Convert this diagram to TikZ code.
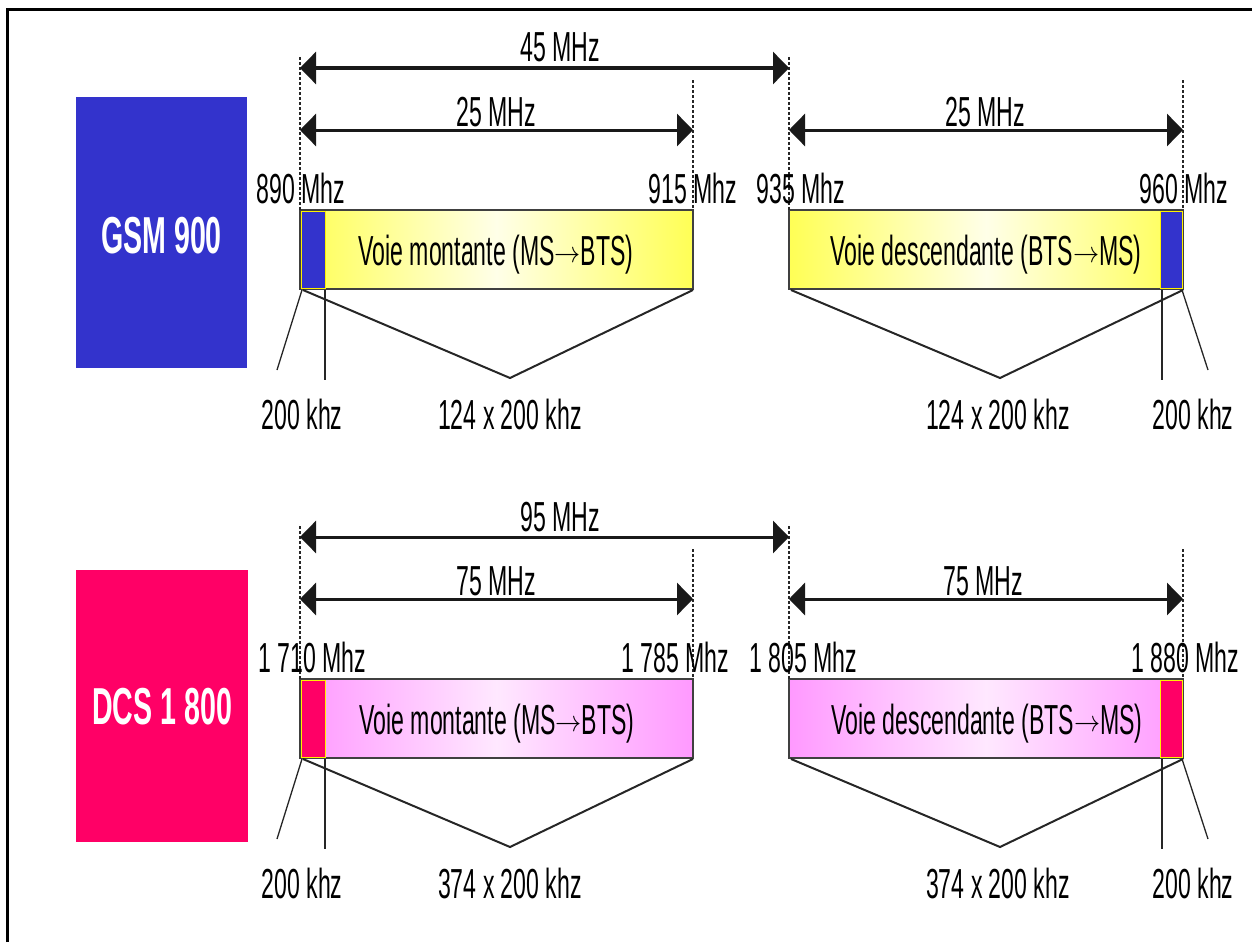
\documentclass[tikz,border=0pt]{standalone}
\usepackage{fontspec}
\usepackage{graphicx}
\setmainfont{Liberation Sans}
\newfontfamily\narrowfont[FakeStretch=0.55]{Liberation Sans}
\usetikzlibrary{arrows.meta}

\definecolor{gsmblue}{HTML}{3333CC}
\definecolor{dcspink}{HTML}{FF0066}
\definecolor{bandyellow}{HTML}{FFFF55}
\definecolor{bandyellowlight}{HTML}{FFFFE8}
\definecolor{bandpink}{HTML}{FF99FF}
\definecolor{bandpinklight}{HTML}{FFE8FF}

% slim arrow used inside the band names
\newcommand{\slimarrow}{\raisebox{3pt}{\scalebox{1.05}[1.2]{$\rightarrow$}}}

\tikzset{
  lbl/.style={font=\narrowfont\fontsize{42}{48}\selectfont, inner sep=0pt, anchor=base},
  syslbl/.style={font=\narrowfont\bfseries\fontsize{52}{60}\selectfont, text=white, inner sep=0pt},
  dimline/.style={line width=3pt, draw=black!90,
    {Triangle[length=16pt,width=32pt]}-{Triangle[length=16pt,width=32pt]}},
  guide/.style={densely dashed, line width=1.3pt, draw=black!85},
  fanline/.style={line width=2pt, draw=black!85},
  tickline/.style={line width=1.3pt, draw=black!85},
  bandedge/.style={line width=1.5pt, draw=black!75},
  cellbox/.style={line width=1pt, draw=yellow},
}

\begin{document}
\begin{tikzpicture}[x=1pt, y=-1pt]
  \useasboundingbox (0,0) rectangle (1252,942);
  % outer frame (top and left edges)
  \draw[line width=3pt] (7,942) -- (7,10) -- (1252,10);

  % ---------------- GSM 900 ----------------
  \fill[gsmblue] (76,97) rectangle (247,368);
  \node[syslbl] (gsm) at (161.5,236) {GSM 900};

  % guides
  \coordinate (ga1) at (300,57);   \coordinate (gb1) at (300,210);
  \coordinate (ga2) at (693,80);   \coordinate (gb2) at (693,210);
  \coordinate (ga3) at (789,57);   \coordinate (gb3) at (789,210);
  \coordinate (ga4) at (1183,80);  \coordinate (gb4) at (1183,210);

  % bands
  \shade[left color=bandyellow, right color=bandyellow, middle color=bandyellowlight]
    (300,210) rectangle (693,289);
  \shade[left color=bandyellow, right color=bandyellow, middle color=bandyellowlight]
    (789,210) rectangle (1183,289);
  \draw[bandedge] (300,210) rectangle (693,289);
  \draw[bandedge] (789,210) rectangle (1183,289);
  \filldraw[cellbox, fill=gsmblue] (301,211) rectangle (325,288);
  \filldraw[cellbox, fill=gsmblue] (1160,211) rectangle (1182,288);

  \foreach \i in {1,...,4} \draw[guide] (ga\i) -- (gb\i);

  % dimension arrows
  \coordinate (gd45l) at (300,68);  \coordinate (gd45r) at (789,68);
  \coordinate (gdul) at (300,130);  \coordinate (gdur) at (693,130);
  \coordinate (gddl) at (789,130);  \coordinate (gddr) at (1183,130);
  \draw[dimline] (gd45l) -- (gd45r);
  \draw[dimline] (gdul) -- (gdur);
  \draw[dimline] (gddl) -- (gddr);
  \node[lbl] (g45) at (560,62) {45 MHz};
  \node[lbl] (g25u) at (496,126) {25 MHz};
  \node[lbl] (g25d) at (985,126) {25 MHz};

  % frequency labels
  \node[lbl] (gf1) at (301,203) {890 Mhz};
  \node[lbl] (gf2) at (693,203) {915 Mhz};
  \node[lbl] (gf3) at (801,203) {935 Mhz};
  \node[lbl] (gf4) at (1184,203) {960 Mhz};

  % band names
  \node[lbl] (gup) at (496,265) {Voie montante (MS\slimarrow BTS)};
  \node[lbl] (gdown) at (986,265) {Voie descendante (BTS\slimarrow MS)};

  % channel fans
  \coordinate (gu0) at (302,290); \coordinate (gu0e) at (277,370);
  \coordinate (gu1) at (325,290); \coordinate (gu1e) at (325,380);
  \coordinate (guv0) at (303,290); \coordinate (guv) at (510,378); \coordinate (guv1) at (693,290);
  \draw[tickline] (gu0) -- (gu0e);
  \draw[tickline] (gu1) -- (gu1e);
  \draw[fanline] (guv0) -- (guv) -- (guv1);
  \coordinate (gdv0) at (791,290); \coordinate (gdv) at (1000,378); \coordinate (gdv1) at (1183,290);
  \coordinate (gd1) at (1162,290); \coordinate (gd1e) at (1162,380);
  \coordinate (gd0) at (1182,290); \coordinate (gd0e) at (1208,370);
  \draw[fanline] (gdv0) -- (gdv) -- (gdv1);
  \draw[tickline] (gd1) -- (gd1e);
  \draw[tickline] (gd0) -- (gd0e);

  \node[lbl] (gk1) at (302,429) {200 khz};
  \node[lbl] (gk2) at (510,429) {124 x 200 khz};
  \node[lbl] (gk3) at (998,429) {124 x 200 khz};
  \node[lbl] (gk4) at (1193,429) {200 khz};

  % ---------------- DCS 1 800 ----------------
  \fill[dcspink] (76,570) rectangle (248,842);
  \node[syslbl] (dcs) at (162,707) {DCS 1 800};

  \coordinate (da1) at (300,526);   \coordinate (db1) at (300,679);
  \coordinate (da2) at (693,549);   \coordinate (db2) at (693,679);
  \coordinate (da3) at (789,526);   \coordinate (db3) at (789,679);
  \coordinate (da4) at (1183,549);  \coordinate (db4) at (1183,679);

  \shade[left color=bandpink, right color=bandpink, middle color=bandpinklight]
    (300,679) rectangle (693,758);
  \shade[left color=bandpink, right color=bandpink, middle color=bandpinklight]
    (789,679) rectangle (1183,758);
  \draw[bandedge] (300,679) rectangle (693,758);
  \draw[bandedge] (789,679) rectangle (1183,758);
  \filldraw[cellbox, fill=dcspink] (301,680) rectangle (325,757);
  \filldraw[cellbox, fill=dcspink] (1160,680) rectangle (1182,757);

  \foreach \i in {1,...,4} \draw[guide] (da\i) -- (db\i);

  \coordinate (dd95l) at (300,537);  \coordinate (dd95r) at (789,537);
  \coordinate (ddul) at (300,599);   \coordinate (ddur) at (693,599);
  \coordinate (dddl) at (789,599);   \coordinate (dddr) at (1183,599);
  \draw[dimline] (dd95l) -- (dd95r);
  \draw[dimline] (ddul) -- (ddur);
  \draw[dimline] (dddl) -- (dddr);
  \node[lbl] (d95) at (560,531) {95 MHz};
  \node[lbl] (d75u) at (496,595) {75 MHz};
  \node[lbl] (d75d) at (983,595) {75 MHz};

  \node[lbl] (df1) at (312,672) {1 710 Mhz};
  \node[lbl] (df2) at (675,672) {1 785 Mhz};
  \node[lbl] (df3) at (803,672) {1 805 Mhz};
  \node[lbl] (df4) at (1185,672) {1 880 Mhz};

  \node[lbl] (dup) at (497,734) {Voie montante (MS\slimarrow BTS)};
  \node[lbl] (ddown) at (987,734) {Voie descendante (BTS\slimarrow MS)};

  \coordinate (du0) at (302,759); \coordinate (du0e) at (277,839);
  \coordinate (du1) at (325,759); \coordinate (du1e) at (325,849);
  \coordinate (duv0) at (303,759); \coordinate (duv) at (510,847); \coordinate (duv1) at (693,759);
  \draw[tickline] (du0) -- (du0e);
  \draw[tickline] (du1) -- (du1e);
  \draw[fanline] (duv0) -- (duv) -- (duv1);
  \coordinate (ddv0) at (791,759); \coordinate (ddv) at (1000,847); \coordinate (ddv1) at (1183,759);
  \coordinate (dd1) at (1162,759); \coordinate (dd1e) at (1162,849);
  \coordinate (dd0) at (1182,759); \coordinate (dd0e) at (1208,839);
  \draw[fanline] (ddv0) -- (ddv) -- (ddv1);
  \draw[tickline] (dd1) -- (dd1e);
  \draw[tickline] (dd0) -- (dd0e);

  \node[lbl] (dk1) at (302,898) {200 khz};
  \node[lbl] (dk2) at (510,898) {374 x 200 khz};
  \node[lbl] (dk3) at (998,898) {374 x 200 khz};
  \node[lbl] (dk4) at (1193,898) {200 khz};
\end{tikzpicture}
\end{document}
